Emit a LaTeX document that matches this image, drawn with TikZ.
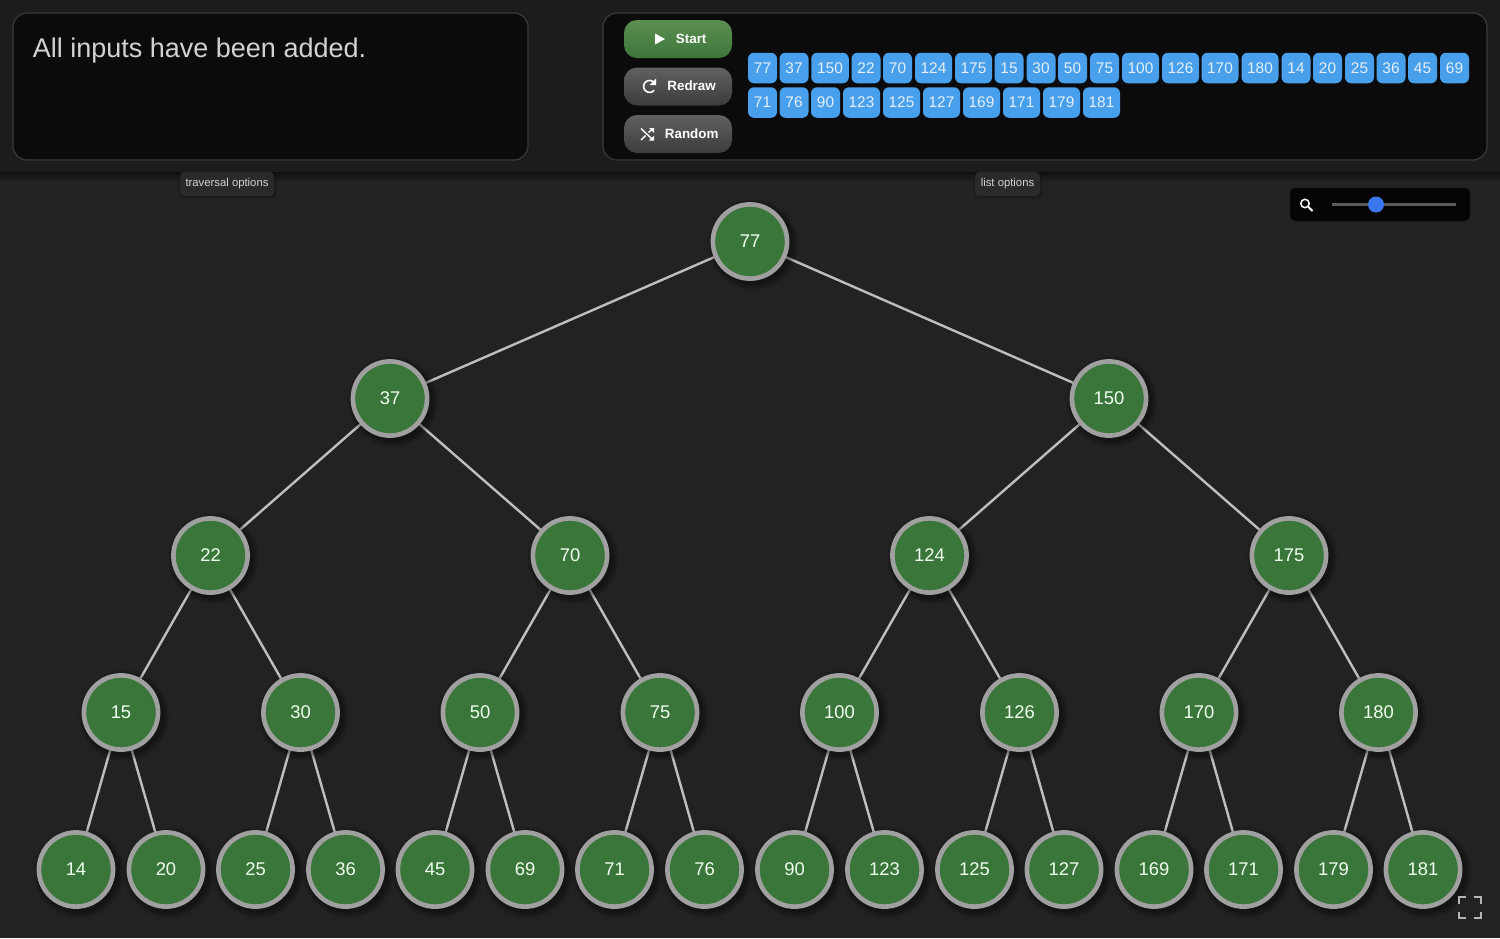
\documentclass[tikz,border=0pt]{standalone}
\usepackage{fontspec}
\setmainfont{Liberation Sans}
\pgfdeclarelayer{pagebg}
\pgfdeclarelayer{edges}
\pgfsetlayers{pagebg,edges,main}
\definecolor{pagecol}{HTML}{222222}
\definecolor{headcol}{HTML}{1C1C1C}
\definecolor{panelcol}{HTML}{0B0B0B}
\definecolor{panelline}{HTML}{3A3A3A}
\definecolor{chipcol}{HTML}{48A0EC}
\definecolor{chiptext}{HTML}{E4EFF9}
\definecolor{treefill}{HTML}{3A763A}
\definecolor{treeline}{HTML}{A0A0A0}
\definecolor{edgecol}{HTML}{BEBEBE}
\definecolor{txtcol}{HTML}{D2D2D2}
\definecolor{thumbcol}{HTML}{3B78F0}
\definecolor{greentop}{HTML}{5A8F50}
\definecolor{greenbot}{HTML}{3E763A}
\definecolor{graytop}{HTML}{606060}
\definecolor{graybot}{HTML}{3C3C3C}
\definecolor{tabcol}{HTML}{2A2A2A}
\definecolor{trackcol}{HTML}{5A5A5A}
\definecolor{fscol}{HTML}{B4B4B4}
\tikzset{
  treenode/.style={circle,draw=treeline,line width=2.3pt,fill=treefill,minimum size=37.1pt,inner sep=0pt,outer sep=0pt,text=white!94!green,font=\fontsize{9.2}{11}\selectfont},
  edgeline/.style={draw=edgecol,line width=1.2pt},
  chip/.style={rectangle,rounded corners=3pt,fill=chipcol,text=chiptext,inner sep=0pt,outer sep=0pt,minimum height=15.25pt,font=\fontsize{7.7}{10}\selectfont},
  panel/.style={rectangle,rounded corners=7pt,fill=panelcol,draw=panelline,line width=.6pt},
  btngreen/.style={rectangle,rounded corners=6.5pt,top color=greentop,bottom color=greenbot,minimum width=54pt,minimum height=19pt,inner sep=0pt,outer sep=0pt},
  btngray/.style={rectangle,rounded corners=6.5pt,top color=graytop,bottom color=graybot,minimum width=54pt,minimum height=19pt,inner sep=0pt,outer sep=0pt},
  btntext/.style={text=white,inner sep=0pt,font=\bfseries\fontsize{6.7}{9}\selectfont},
  tabnode/.style={rectangle,rounded corners=2pt,fill=tabcol,text=txtcol,inner sep=0pt,outer sep=0pt,minimum height=12pt,font=\fontsize{5.65}{7}\selectfont},
  iconline/.style={draw=white,line width=.7pt},
  fsline/.style={draw=fscol,line width=1.25pt},
}
\newcommand{\treenodeat}[4]{%
  \foreach \rr/\oo in {46/.05,44.5/.07,43/.09,41.5/.11,40/.13}{\fill[black,opacity=\oo] (#2+3,#3+3) circle[radius=\rr];}
  \node[treenode] (#1) at (#2,#3) {\raisebox{-0.25pt}{#4}};}
\newcommand{\chipat}[4]{\node[chip,minimum width={(#2)*0.5pt}] (chip#4#3) at (#1,#4) {\raisebox{-0.2pt}{#3}};}
\begin{document}
\begin{tikzpicture}[x=0.5pt,y=-0.5pt]
\useasboundingbox (0,0) rectangle (1500,938);
\begin{pgfonlayer}{pagebg}
\fill[pagecol] (0,0) rectangle (1500,938);
\end{pgfonlayer}
% tree
\treenodeat{n77}{750}{241.5}{77}
\treenodeat{n37}{390}{398.5}{37}
\treenodeat{n150}{1109}{398.5}{150}
\treenodeat{n22}{210.5}{555.5}{22}
\treenodeat{n70}{570}{555.5}{70}
\treenodeat{n124}{929.5}{555.5}{124}
\treenodeat{n175}{1289}{555.5}{175}
\treenodeat{n15}{121}{712.5}{15}
\treenodeat{n30}{300.5}{712.5}{30}
\treenodeat{n50}{480}{712.5}{50}
\treenodeat{n75}{660}{712.5}{75}
\treenodeat{n100}{839.5}{712.5}{100}
\treenodeat{n126}{1019.5}{712.5}{126}
\treenodeat{n170}{1199}{712.5}{170}
\treenodeat{n180}{1378.5}{712.5}{180}
\treenodeat{n14}{76}{869.5}{14}
\treenodeat{n20}{166}{869.5}{20}
\treenodeat{n25}{255.5}{869.5}{25}
\treenodeat{n36}{345.5}{869.5}{36}
\treenodeat{n45}{435}{869.5}{45}
\treenodeat{n69}{525}{869.5}{69}
\treenodeat{n71}{614.5}{869.5}{71}
\treenodeat{n76}{704.5}{869.5}{76}
\treenodeat{n90}{794.5}{869.5}{90}
\treenodeat{n123}{884.5}{869.5}{123}
\treenodeat{n125}{974.5}{869.5}{125}
\treenodeat{n127}{1064}{869.5}{127}
\treenodeat{n169}{1154}{869.5}{169}
\treenodeat{n171}{1243.5}{869.5}{171}
\treenodeat{n179}{1333.5}{869.5}{179}
\treenodeat{n181}{1423}{869.5}{181}
\begin{pgfonlayer}{edges}
\foreach \a/\b in {n77/n37,n77/n150,n37/n22,n37/n70,n150/n124,n150/n175,n22/n15,n22/n30,n70/n50,n70/n75,n124/n100,n124/n126,n175/n170,n175/n180,n15/n14,n15/n20,n30/n25,n30/n36,n50/n45,n50/n69,n75/n71,n75/n76,n100/n90,n100/n123,n126/n125,n126/n127,n170/n169,n170/n171,n180/n179,n180/n181}{\draw[edgeline] (\a) -- (\b);}
\end{pgfonlayer}
% header
\shade[top color=black!55!pagecol,bottom color=pagecol] (0,172) rectangle (1500,182);
\fill[black,opacity=.2,rounded corners=2pt] (179,172) rectangle (276,198);
\fill[black,opacity=.2,rounded corners=2pt] (974,172) rectangle (1042,198);
\node[tabnode,minimum width=47pt] (tabtrav) at (227,184) {\raisebox{-0.8pt}{traversal options}};
\node[tabnode,minimum width=32.5pt] (tablist) at (1007.5,184) {\raisebox{-0.8pt}{list options}};
\fill[headcol] (0,0) rectangle (1500,172);
\draw[panel] (13,13) rectangle (528,160);
\draw[panel] (603,13) rectangle (1487,160);
\node[anchor=base west,inner sep=0pt,text=txtcol,font=\fontsize{13.5}{16}\selectfont] (msg) at (32.5,57.5) {All inputs have been added.};
% buttons
\node[btngreen] (bstart) at (678,39) {};
\node[btngray] (bredraw) at (678,86.5) {};
\node[btngray] (brandom) at (678,134) {};
\node[btntext,anchor=west] (tstart) at (675.5,38.5) {Start};
\node[btntext,anchor=west] (tredraw) at (667,86) {Redraw};
\node[btntext,anchor=west] (trandom) at (664.5,133.5) {Random};
\fill[white] (655,33.5) -- (665,39) -- (655,44.5) -- cycle;
\draw[iconline,line width=.8pt] (654.5,83) arc[start angle=-35,end angle=-320,radius=6];
\fill[white] (656,78.5) -- (656,85) -- (649.5,85) -- cycle;
\draw[iconline] (641,128.5) -- (653,140);
\draw[iconline] (641,140) -- (645.5,135.5);
\draw[iconline] (648.5,132.5) -- (653,128.5);
\fill[white] (649,128) -- (654,128) -- (654,133) -- cycle;
\fill[white] (649,140.5) -- (654,140.5) -- (654,135.5) -- cycle;
% list chips, first row
\chipat{762.5}{29}{77}{68}
\chipat{794}{29}{37}{68}
\chipat{830}{37.5}{150}{68}
\chipat{866}{29}{22}{68}
\chipat{897.5}{29}{70}{68}
\chipat{933.5}{37}{124}{68}
\chipat{973.5}{37}{175}{68}
\chipat{1009}{29}{15}{68}
\chipat{1041}{29}{30}{68}
\chipat{1072.5}{29}{50}{68}
\chipat{1104.5}{29}{75}{68}
\chipat{1140.5}{37}{100}{68}
\chipat{1180.5}{37}{126}{68}
\chipat{1220}{37}{170}{68}
\chipat{1260}{37}{180}{68}
\chipat{1296}{29}{14}{68}
\chipat{1327.5}{29}{20}{68}
\chipat{1359.5}{29}{25}{68}
\chipat{1391}{29}{36}{68}
\chipat{1422.5}{29}{45}{68}
\chipat{1454.5}{29}{69}{68}
% list chips, second row
\chipat{762.5}{29}{71}{102.5}
\chipat{794}{29}{76}{102.5}
\chipat{825.5}{29}{90}{102.5}
\chipat{861.5}{37}{123}{102.5}
\chipat{901.5}{37}{125}{102.5}
\chipat{941.5}{37}{127}{102.5}
\chipat{981.5}{37}{169}{102.5}
\chipat{1021.5}{37}{171}{102.5}
\chipat{1061.5}{37}{179}{102.5}
\chipat{1101.5}{37}{181}{102.5}
% zoom slider
\fill[black!85!pagecol,rounded corners=2.5pt] (1290,188) rectangle (1470,221);
\draw[draw=trackcol,line width=1.1pt] (1332,204.5) -- (1456,204.5);
\fill[thumbcol] (1376,204.5) circle[radius=8];
\draw[iconline,line width=.75pt] (1305,203.5) circle[radius=4.2];
\draw[iconline,line width=.95pt] (1308.2,206.7) -- (1312.5,211);
% fullscreen
\draw[fsline] (1459,903.5) -- (1459,897) -- (1466,897);
\draw[fsline] (1474,897) -- (1481,897) -- (1481,903.5);
\draw[fsline] (1459,911.5) -- (1459,918) -- (1466,918);
\draw[fsline] (1474,918) -- (1481,918) -- (1481,911.5);
\end{tikzpicture}
\end{document}
